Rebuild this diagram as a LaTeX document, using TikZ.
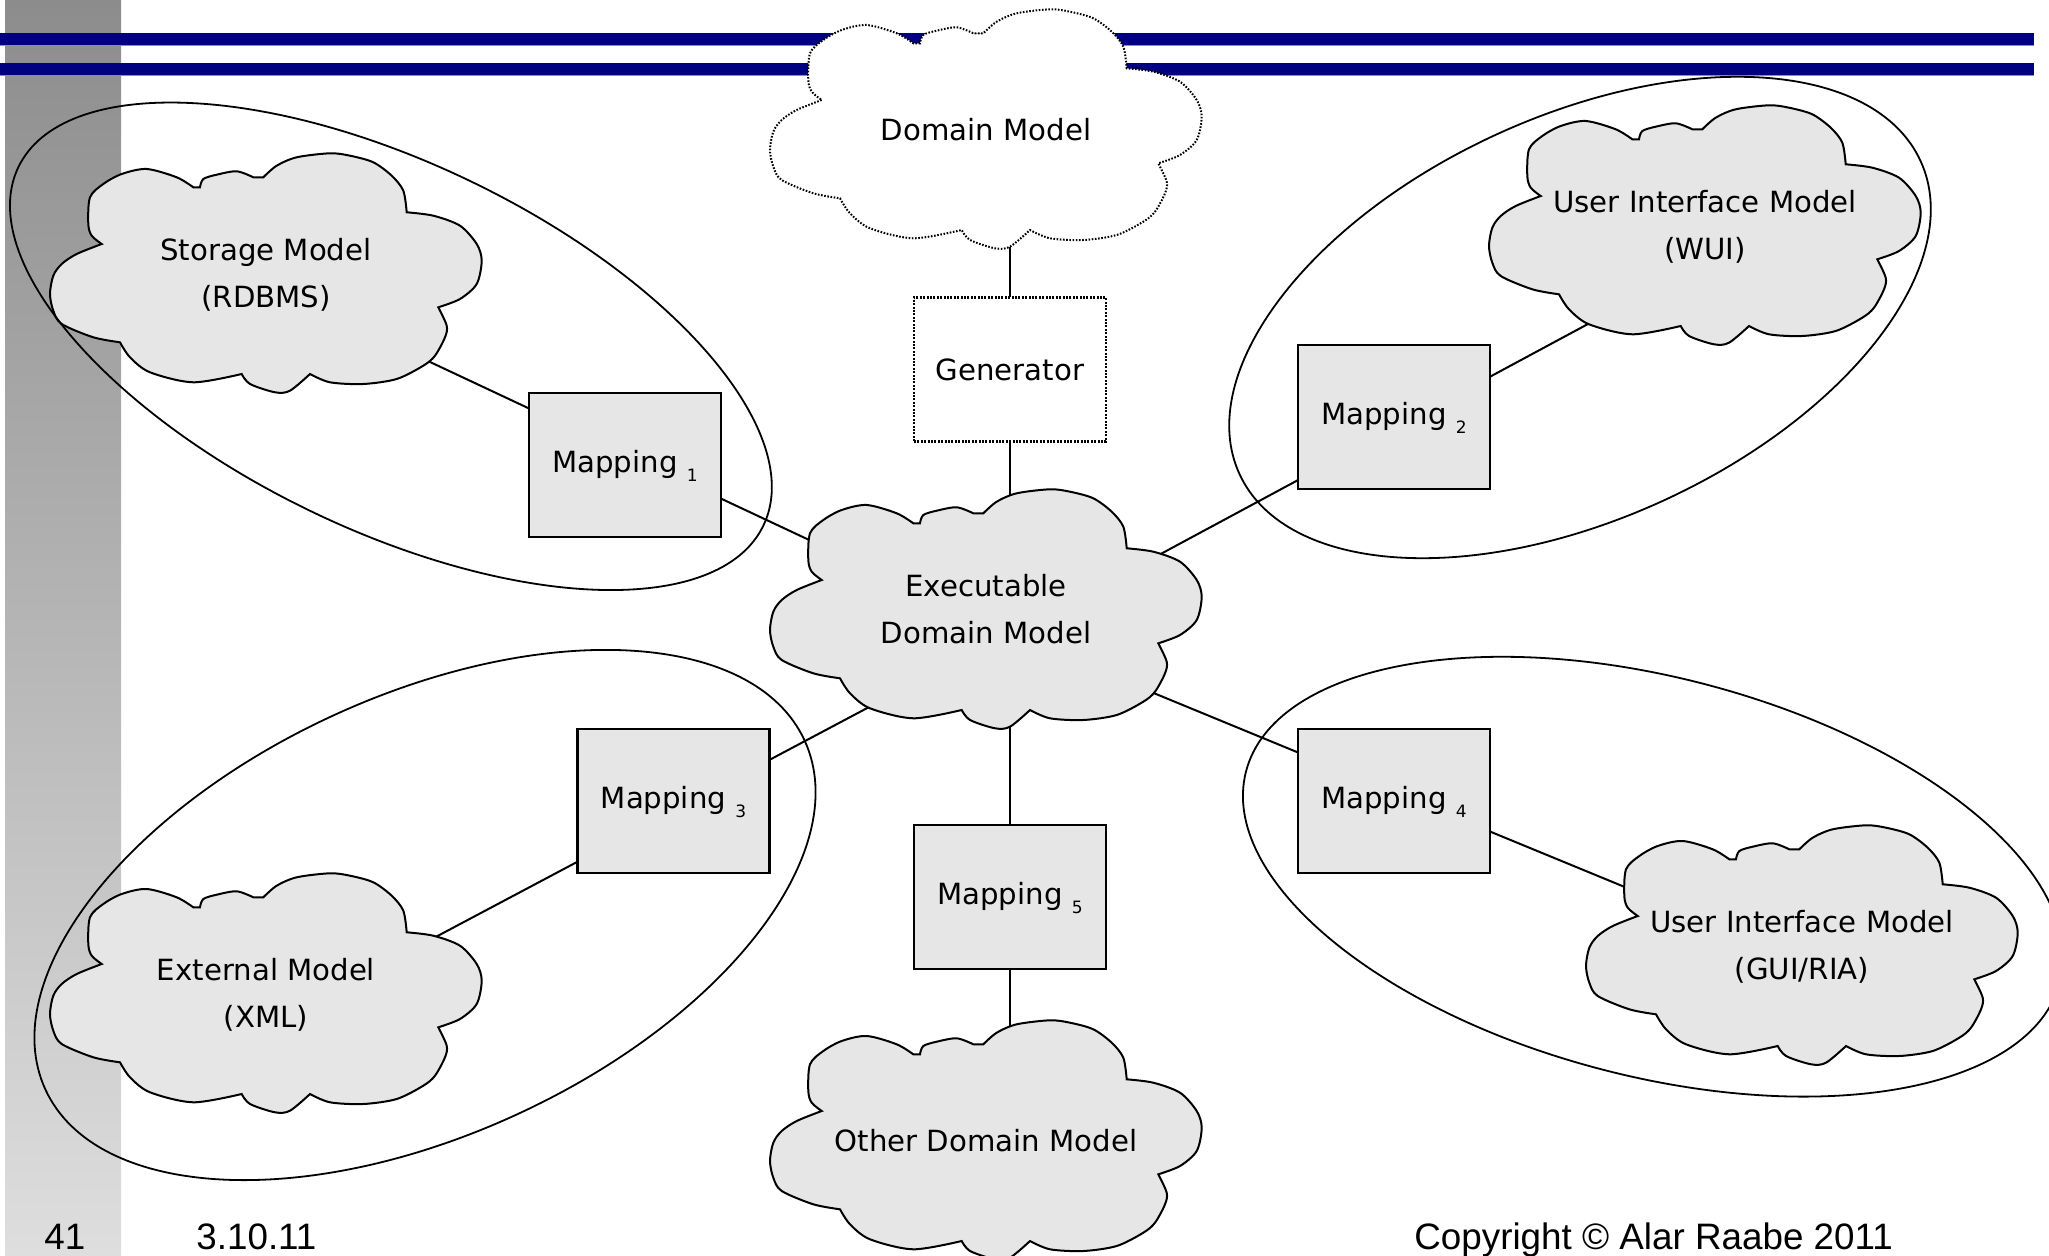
\documentclass[tikz,border=0pt]{standalone}
\usepackage{fontspec}
\setmainfont{DejaVu Sans}
\newfontfamily\footfont{Liberation Sans}
\usetikzlibrary{calc}

\definecolor{barblue}{RGB}{0,0,128}
\definecolor{baredge}{RGB}{136,136,204}
\definecolor{stripdark}{RGB}{140,140,140}
\definecolor{striplight}{RGB}{222,222,222}
\definecolor{shapefill}{RGB}{230,230,230}

\pgfdeclarelayer{back}
\pgfdeclarelayer{links}
\pgfdeclarelayer{clouds}
\pgfsetlayers{back,links,clouds,main}

% small lowered index after "Mapping"
\newcommand\mapsub[1]{\raisebox{-4.6pt}{\fontsize{8.5}{9}\selectfont #1}}

\tikzset{
  % cloud outline, drawn around the origin of the pic
  pics/puff/.style={code={
    \path[pic actions]
      plot[smooth,tension=.5] coordinates {(-164.3,-29) (-189.3,-19) (-204.3,-9) (-212.7,2.7) (-216,21) (-212.7,37.7) (-204.3,51) (-172.7,64.3) (-146,69.3)}
      -- plot[smooth,tension=.5] coordinates {(-146,69.3) (-136,84.3) (-116,99.3) (-72.7,109.3) (-24.3,101)}
      -- plot[smooth,tension=.5] coordinates {(-24.3,101) (-16,111) (9,119.3) (24,117.7) (44,101)}
      -- plot[smooth,tension=.5] coordinates {(44,101) (64,109.3) (97.3,111) (130.7,106) (157.3,92.7) (169,82.7) (179,64.3) (180.7,52.7) (172.3,34.3)}
      -- plot[smooth,tension=.5] coordinates {(172.3,34.3) (194,26) (210.7,11) (215.7,-12.3) (210.7,-29) (194,-47.3) (167.3,-57.3) (140.7,-60.7)}
      -- plot[smooth,tension=.5] coordinates {(140.7,-60.7) (137.3,-82.3) (125.7,-97.3) (107.3,-110.7) (84,-117.3) (64,-119.7) (30.7,-115.7) (10.7,-107.3) (-2.7,-95.7)}
      -- (-12.7,-95.7)
      -- plot[smooth,tension=.5] coordinates {(-12.7,-95.7) (-29.3,-101.7) (-49.3,-98.3) (-62.7,-94) (-66,-85.7)}
      -- (-72.7,-85.7)
      -- plot[smooth,tension=.5] coordinates {(-72.7,-85.7) (-89.3,-95.7) (-119.3,-104) (-144.3,-99) (-162.7,-89) (-176,-75.7) (-177.7,-49) (-174.3,-37.3) (-164.3,-29)}
      -- cycle;
  }},
  cloudtext/.style={align=center, font=\fontsize{14.6}{23.5}\selectfont,
    text depth=0pt, inner sep=0pt},
  solidpuff/.style={draw, line width=1pt, fill=shapefill},
  dottedpuff/.style={draw, line width=1pt, fill=white,
    dash pattern=on 0.8pt off 0.8pt},
  mapbox/.style={draw, line width=1.1pt, fill=shapefill,
    minimum width=96pt, minimum height=72pt, inner sep=0pt,
    font=\fontsize{14.6}{18}\selectfont, text height=7.5pt, text depth=0pt},
  genbox/.style={mapbox, fill=white, dash pattern=on 1pt off 0.7pt,
    text height=10.7pt},
  link/.style={line width=1pt},
  ring/.style={line width=0.9pt},
  foot/.style={font=\footfont\fontsize{18.4}{20}\selectfont,
    anchor=base west, inner sep=0pt},
}

\begin{document}
\begin{tikzpicture}[x=0.5pt,y=-0.5pt]
\useasboundingbox (0,0) rectangle (2049,1256);

% slide decoration: side strip and title bars
\begin{pgfonlayer}{back}
  \shade[top color=stripdark, bottom color=striplight] (5,0) rectangle (121,1256);
  \fill[barblue] (0,33) rectangle (2034,45);
  \fill[baredge] (0,45) rectangle (2034,46.5);
  \fill[barblue] (0,63) rectangle (2034,75);
  \fill[baredge] (0,75) rectangle (2034,76.5);
\end{pgfonlayer}

% models (cloud captions)
\node[cloudtext] (dm)    at (986,129)  {Domain Model};
\node[cloudtext] (exec)  at (986,609)  {Executable\\Domain Model};
\node[cloudtext] (store) at (266,273)  {Storage Model\\(RDBMS)};
\node[cloudtext] (wui)   at (1705,225) {User Interface Model\\(WUI)};
\node[cloudtext] (ext)   at (266,993)  {External Model\\(XML)};
\node[cloudtext] (gui)   at (1802,945) {User Interface Model\\(GUI/RIA)};
\node[cloudtext] (other) at (986,1140) {Other Domain Model};

% transformations
\node[genbox] (gen) at (1010,369.5) {Generator};
\node[mapbox] (m1) at (625,465)   {Mapping \mapsub{1}};
\node[mapbox] (m2) at (1394,417)  {Mapping \mapsub{2}};
\node[mapbox] (m3) at (673.5,801) {Mapping \mapsub{3}};
\node[mapbox] (m4) at (1394,801)  {Mapping \mapsub{4}};
\node[mapbox] (m5) at (1010,897)  {Mapping \mapsub{5}};

% cloud bodies
\begin{pgfonlayer}{clouds}
  \pic[dottedpuff] at (dm.center) {puff};
  \pic[solidpuff] at (exec.center) {puff};
  \pic[solidpuff] at (store.center) {puff};
  \pic[solidpuff] at (wui.center) {puff};
  \pic[solidpuff] at (ext.center) {puff};
  \pic[solidpuff] at (gui.center) {puff};
  \pic[solidpuff] at (other.center) {puff};
\end{pgfonlayer}

% connections (hidden behind the filled shapes)
\begin{pgfonlayer}{links}
  \draw[link] (gen.center |- dm.center) -- (m5.center |- other.center);
  \draw[link] ($(store.center)+(0,12)$) -- ($(exec.center)+(0,14)$);
  \draw[link] ($(exec.center)+(0,39)$) -- ($(wui.center)+(0,36)$);
  \draw[link] ($(exec.center)+(0,36)$) -- ($(ext.center)+(0,34)$);
  \draw[link] ($(exec.center)+(0,15)$) -- ($(gui.center)+(0,15)$);
\end{pgfonlayer}

% groupings
\draw[ring, rotate around={-25.7:(390.9,346.3)}] (390.9,346.3) ellipse [x radius=206.7pt, y radius=91.65pt];
\draw[ring, rotate around={24.7:(1580,317.5)}] (1580,317.5) ellipse [x radius=187.4pt, y radius=100.6pt];
\draw[ring, rotate around={24.7:(425,915)}] (425,915) ellipse [x radius=208.9pt, y radius=109.8pt];
\draw[ring, rotate around={-14.5:(1653,876.7)}] (1653,876.7) ellipse [x radius=210.2pt, y radius=99.7pt];

% footer
\node[foot] (pgnum) at (44,1249)   {41};
\node[foot] (date)  at (196,1249)  {3.10.11};
\node[foot] (copy)  at (1414,1249) {Copyright © Alar Raabe 2011};
\end{tikzpicture}
\end{document}
